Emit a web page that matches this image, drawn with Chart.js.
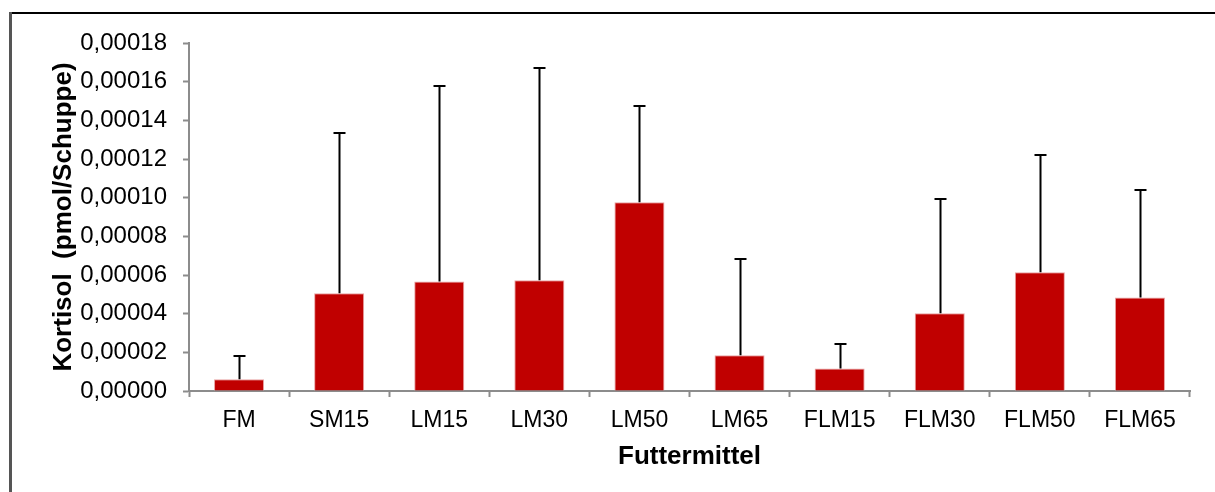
<!DOCTYPE html>
<html>
<head>
<meta charset="utf-8">
<script src="https://cdn.jsdelivr.net/npm/chart.js@4"></script>
<style>
  html, body { margin: 0; padding: 0; background: #fff; }
  #wrap { width: 1215px; height: 492px; position: relative; }
</style>
</head>
<body>
<div id="wrap"><canvas id="chartKortisol"></canvas></div>
<script>
const futter = ['FM', 'SM15', 'LM15', 'LM30', 'LM50', 'LM65', 'FLM15', 'FLM30', 'FLM50', 'FLM65'];
const kortisol = [0.0000061, 0.0000505, 0.0000567, 0.0000573, 0.0000976, 0.0000185, 0.0000117, 0.0000402, 0.0000614, 0.0000483];
const stdabw = [0.0000120, 0.0000829, 0.0001009, 0.0001099, 0.0000496, 0.0000498, 0.0000128, 0.0000591, 0.0000606, 0.0000555];

const schrift = "'Liberation Sans', Arial, sans-serif";

// Rahmen oben und links (Diagrammbereich ist rechts/unten abgeschnitten)
const rahmen = {
    id: 'rahmen',
    beforeDraw(chart) {
        const ctx = chart.ctx;
        ctx.save();
        ctx.fillStyle = '#fff';
        ctx.fillRect(0, 0, chart.width, chart.height);
        ctx.strokeStyle = '#000';
        ctx.lineWidth = 2;
        ctx.beginPath();
        ctx.moveTo(9, 13);
        ctx.lineTo(chart.width, 13);
        ctx.stroke();
        ctx.strokeStyle = '#555';
        ctx.lineWidth = 3;
        ctx.beginPath();
        ctx.moveTo(10.5, 12);
        ctx.lineTo(10.5, chart.height);
        ctx.stroke();
        ctx.restore();
    }
};

// Fehlerbalken (nur nach oben)
const fehlerbalken = {
    id: 'fehlerbalken',
    afterDatasetsDraw(chart) {
        const ctx = chart.ctx;
        const xs = chart.scales.x, ys = chart.scales.y;
        ctx.save();
        ctx.strokeStyle = '#000';
        ctx.lineWidth = 2;
        kortisol.forEach((v, i) => {
            const x = Math.round(xs.getPixelForValue(i)) + 0.5;
            const y0 = ys.getPixelForValue(v);
            const y1 = Math.round(ys.getPixelForValue(v + stdabw[i]));
            ctx.beginPath();
            ctx.moveTo(x, y0);
            ctx.lineTo(x, y1);
            ctx.moveTo(x - 6, y1);
            ctx.lineTo(x + 6, y1);
            ctx.stroke();
        });
        ctx.restore();
    }
};

new Chart(document.getElementById('chartKortisol').getContext('2d'), {
    type: 'bar',
    data: {
        labels: futter,
        datasets: [{
            label: 'Kortisol',
            data: kortisol,
            backgroundColor: '#C00000',
            borderColor: '#e8a4a4',
            borderWidth: 1,
            barPercentage: 0.5,
            categoryPercentage: 1.0
        }]
    },
    options: {
        responsive: true,
        maintainAspectRatio: false,
        animation: false,
        devicePixelRatio: 1,
        layout: { padding: { top: 43, right: 25, bottom: 0, left: 0 } },
        plugins: {
            legend: { display: false },
            tooltip: { enabled: false }
        },
        scales: {
            x: {
                offset: true,
                grid: {
                    offset: true,
                    drawOnChartArea: false,
                    tickLength: 6,
                    tickColor: '#8c8c8c',
                    tickWidth: 2
                },
                border: { color: '#8c8c8c', width: 2 },
                ticks: {
                    color: '#000',
                    padding: 10,
                    font: { family: schrift, size: 23 }
                },
                title: {
                    display: true,
                    text: 'Futtermittel',
                    color: '#000',
                    font: { family: schrift, size: 26, weight: 'bold' },
                    padding: { top: 0, bottom: 20 }
                },
                afterFit: s => { s.height = 101; }
            },
            y: {
                min: 0,
                max: 0.00018,
                grid: {
                    drawOnChartArea: false,
                    tickLength: 6,
                    tickColor: '#8c8c8c',
                    tickWidth: 2
                },
                border: { color: '#8c8c8c', width: 2 },
                ticks: {
                    stepSize: 0.00002,
                    color: '#000',
                    padding: 16,
                    font: { family: schrift, size: 24 },
                    callback: v => v.toFixed(5).replace('.', ',')
                },
                title: {
                    display: true,
                    text: 'Kortisol  (pmol/Schuppe)',
                    color: '#000',
                    font: { family: schrift, size: 26, weight: 'bold' },
                    padding: { top: 48, bottom: 0 }
                },
                afterFit: s => { s.width = 189; }
            }
        }
    },
    plugins: [rahmen, fehlerbalken]
});
</script>
</body>
</html>
